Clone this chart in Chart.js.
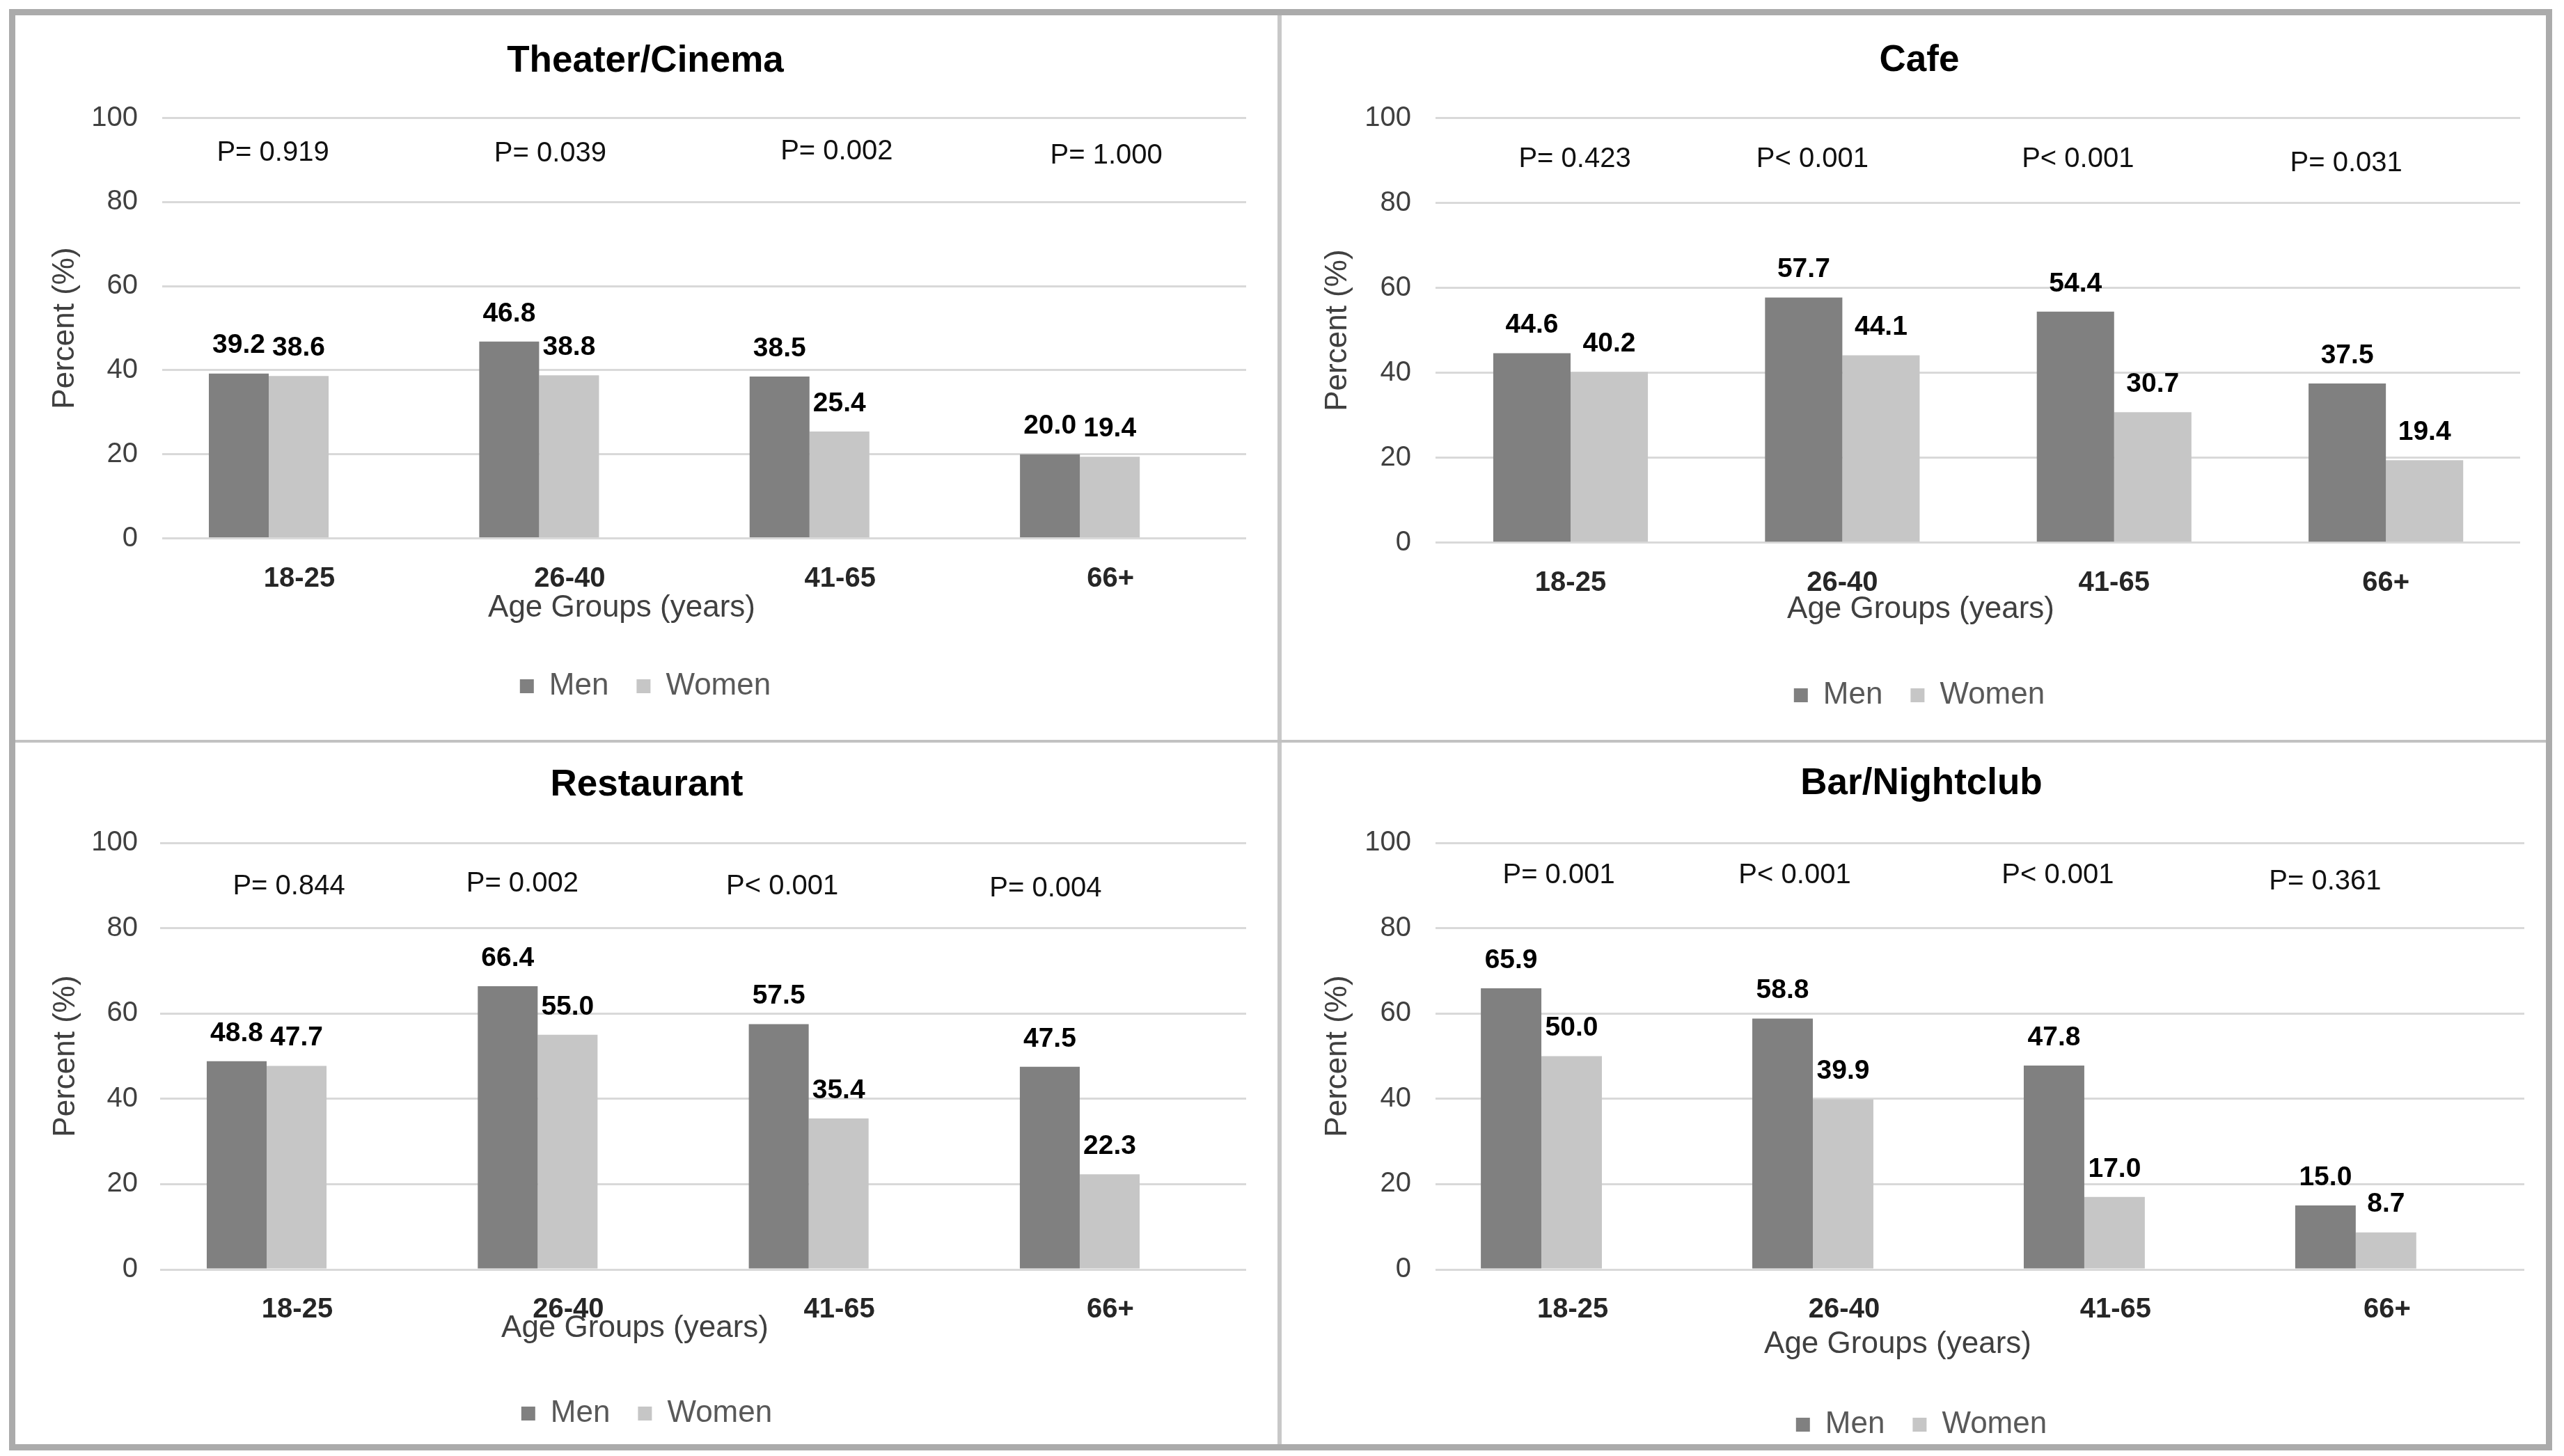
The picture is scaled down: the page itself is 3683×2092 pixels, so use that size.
<!DOCTYPE html>
<html>
<head>
<meta charset="utf-8">
<script src="https://cdn.jsdelivr.net/npm/chart.js@4.4.1/dist/chart.umd.min.js"></script>
<style>
  html, body { margin: 0; padding: 0; background: #fff; }
  body { width: 3683px; height: 2092px; position: relative; overflow: hidden; }
  canvas { position: absolute; }
  .frame { position: absolute; left: 13px; top: 13px; width: 3653px; height: 2071px;
           border: 9px solid #ababab; box-sizing: border-box; pointer-events: none; }
  .vline { position: absolute; left: 1835px; top: 22px; width: 6px; height: 2053px; background: #c8c8c8; }
  .hline { position: absolute; left: 22px; top: 1063px; width: 3635px; height: 4px; background: #c2c2c2; }
</style>
</head>
<body>
<canvas id="c0"></canvas>
<canvas id="c1"></canvas>
<canvas id="c2"></canvas>
<canvas id="c3"></canvas>
<div class="vline"></div>
<div class="hline"></div>
<div class="frame"></div>
<script>
// data
const ageGroups = ['18-25', '26-40', '41-65', '66+'];
const seriesNames = ['Men', 'Women'];

const theaterMen = [39.2, 46.8, 38.5, 20.0];
const theaterWomen = [38.6, 38.8, 25.4, 19.4];
const theaterP = ['P= 0.919', 'P= 0.039', 'P= 0.002', 'P= 1.000'];

const cafeMen = [44.6, 57.7, 54.4, 37.5];
const cafeWomen = [40.2, 44.1, 30.7, 19.4];
const cafeP = ['P= 0.423', 'P< 0.001', 'P< 0.001', 'P= 0.031'];

const restaurantMen = [48.8, 66.4, 57.5, 47.5];
const restaurantWomen = [47.7, 55.0, 35.4, 22.3];
const restaurantP = ['P= 0.844', 'P= 0.002', 'P< 0.001', 'P= 0.004'];

const barMen = [65.9, 58.8, 47.8, 15.0];
const barWomen = [50.0, 39.9, 17.0, 8.7];
const barP = ['P= 0.001', 'P< 0.001', 'P< 0.001', 'P= 0.361'];

const yMax = 100;
const yStep = 20;

const MEN_COLOR = '#808080';
const WOMEN_COLOR = '#c6c6c6';
const FONT = "'Liberation Sans', Arial, Helvetica, sans-serif";

Chart.defaults.font.family = FONT;

// layout of each panel (pixels in the panel's own canvas)
const panels = [
  { id: 'c0', title: 'Theater/Cinema', men: theaterMen, women: theaterWomen, p: theaterP,
    left: 0, top: 0, w: 1842, h: 1063, padL: 64,
    area: { l: 233, r: 1790, t: 169.5, b: 773.5 },
    titleY: 88, legendY: 986, xMin: -0.394, xMax: 3.615, catPct: 0.443, labelOffset: 44,
    yTickPad: 35, yTitleX: 94, xTitle: [893, 874],
    pShift: [6, 16, 39, 38], pY: [91.6, 91.4, 91.9, 90.9] },
  { id: 'c1', title: 'Cafe', men: cafeMen, women: cafeWomen, p: cafeP,
    left: 1842, top: 0, w: 1841, h: 1063, padL: 52,
    area: { l: 220, r: 1778, t: 169.5, b: 779.7 },
    titleY: 87, legendY: 999, xMin: -0.497, xMax: 3.494, catPct: 0.569, labelOffset: 0,
    yTickPad: 35, yTitleX: 79.5, xTitle: [917, 876],
    pShift: [6, -43, -52, -57], pY: [90.3, 90.3, 90.3, 89.2] },
  { id: 'c2', title: 'Restaurant', men: restaurantMen, women: restaurantWomen, p: restaurantP,
    left: 0, top: 1063, w: 1842, h: 1029, padL: 68,
    area: { l: 230, r: 1790, t: 148, b: 761 },
    titleY: 65, legendY: 968, xMin: -0.393, xMax: 3.614, catPct: 0.442, labelOffset: 44,
    yTickPad: 32, yTitleX: 94.4, xTitle: [912, 846],
    pShift: [32, -22, -38, -49], pY: [89.8, 90.3, 89.8, 89.2] },
  { id: 'c3', title: 'Bar/Nightclub', men: barMen, women: barWomen, p: barP,
    left: 1842, top: 1063, w: 1841, h: 1029, padL: 52,
    area: { l: 220, r: 1784, t: 148, b: 761 },
    titleY: 63, legendY: 984, xMin: -0.39, xMax: 3.621, catPct: 0.446, labelOffset: 45,
    yTickPad: 35, yTitleX: 79.5, xTitle: [884, 869],
    pShift: [25, -26, -38, -44], pY: [92.3, 92.3, 92.3, 90.9] }
];

const TITLE_SIZE = 53;
const LEGEND_SIZE = 44;
const LEGEND_PAD = 40;

// value labels above bars, p-values and the x axis title
const annotations = {
  id: 'annotations',
  afterDatasetsDraw(chart, args, opts) {
    const ctx = chart.ctx;
    const xs = chart.scales.x, ys = chart.scales.y;
    ctx.save();
    ctx.textAlign = 'center';
    ctx.textBaseline = 'middle';
    ctx.fillStyle = '#000';
    ctx.font = 'bold 39px ' + FONT;
    chart.data.datasets.forEach((ds, di) => {
      chart.getDatasetMeta(di).data.forEach((bar, i) => {
        ctx.fillText(ds.data[i].y.toFixed(1), bar.x, bar.y - 40);
      });
    });
    const cfg = opts.panel;
    ctx.font = '40px ' + FONT;
    ctx.fillStyle = '#111';
    cfg.p.forEach((txt, i) => {
      ctx.fillText(txt, xs.getPixelForValue(i) + cfg.pShift[i], ys.getPixelForValue(cfg.pY[i]));
    });
    ctx.font = '44px ' + FONT;
    ctx.fillStyle = '#404040';
    ctx.fillText('Age Groups (years)', cfg.xTitle[0], cfg.xTitle[1]);
    ctx.restore();
  }
};

panels.forEach(cfg => {
  const canvas = document.getElementById(cfg.id);
  canvas.width = cfg.w;
  canvas.height = cfg.h;
  canvas.style.left = cfg.left + 'px';
  canvas.style.top = cfg.top + 'px';
  canvas.style.width = cfg.w + 'px';
  canvas.style.height = cfg.h + 'px';

  const lh = TITLE_SIZE * 1.2;
  const legendBottom = cfg.legendY + LEGEND_SIZE / 2 + 10;
  const legendTop = legendBottom - (LEGEND_SIZE + LEGEND_PAD + 10);
  const xAxisH = legendTop - cfg.area.b;

  new Chart(canvas.getContext('2d'), {
    type: 'bar',
    data: {
      datasets: [
        { label: seriesNames[0], data: cfg.men.map((v, i) => ({ x: i, y: v })),
          backgroundColor: MEN_COLOR, borderWidth: 0 },
        { label: seriesNames[1], data: cfg.women.map((v, i) => ({ x: i, y: v })),
          backgroundColor: WOMEN_COLOR, borderWidth: 0 }
      ]
    },
    options: {
      responsive: false,
      animation: false,
      devicePixelRatio: 1,
      categoryPercentage: cfg.catPct,
      barPercentage: 1,
      layout: { padding: { left: cfg.padL, top: 0, right: cfg.w - cfg.area.r, bottom: cfg.h - legendBottom } },
      plugins: {
        tooltip: { enabled: false },
        title: {
          display: true,
          text: cfg.title,
          color: '#000',
          font: { size: TITLE_SIZE, weight: 'bold' },
          padding: { top: cfg.titleY - lh / 2, bottom: cfg.area.t - cfg.titleY - lh / 2 }
        },
        legend: {
          position: 'bottom',
          labels: {
            color: '#595959',
            font: { size: LEGEND_SIZE },
            boxWidth: 20,
            boxHeight: 20,
            padding: LEGEND_PAD
          }
        },
        annotations: { panel: cfg }
      },
      scales: {
        x: {
          type: 'linear',
          offset: false,
          min: cfg.xMin,
          max: cfg.xMax,
          grid: { display: false, offset: false },
          border: { display: false },
          afterBuildTicks: scale => { scale.ticks = ageGroups.map((g, i) => ({ value: i })); },
          afterFit: scale => { scale.height = xAxisH; },
          ticks: {
            callback: v => ageGroups[v],
            labelOffset: cfg.labelOffset,
            padding: 26,
            maxRotation: 0,
            color: '#262626',
            font: { size: 40, weight: 'bold' }
          }
        },
        y: {
          min: 0,
          max: yMax,
          grid: { color: '#d9d9d9', lineWidth: 3, drawTicks: false },
          border: { display: false },
          afterFit: scale => { scale.width = cfg.area.l - cfg.padL; },
          ticks: {
            stepSize: yStep,
            padding: cfg.yTickPad,
            color: '#404040',
            font: { size: 40 }
          },
          title: {
            display: true,
            text: 'Percent (%)',
            color: '#404040',
            font: { size: 44 },
            padding: { top: Math.max(cfg.yTitleX - cfg.padL - 26.4, 0), bottom: 0 }
          }
        }
      }
    },
    plugins: [annotations]
  });
});
</script>
</body>
</html>
